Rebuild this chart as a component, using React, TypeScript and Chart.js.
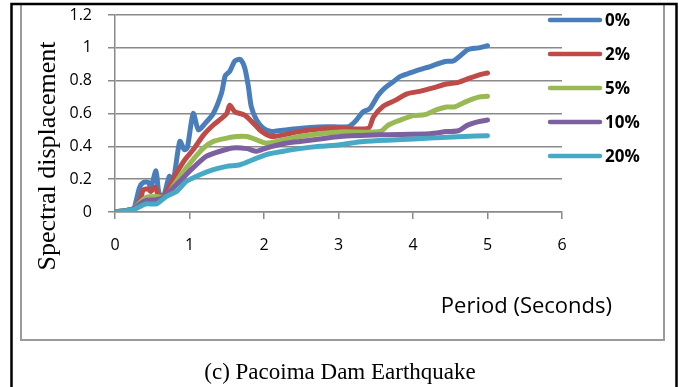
import { useEffect, useRef } from "react";
import { Chart, registerables } from "chart.js";

Chart.register(...registerables);

// ---------- data ----------
const seriesLabels = ["0%", "2%", "5%", "10%", "20%"];
const seriesColors = ["#4A7EBB", "#BE4B48", "#98B954", "#7D60A0", "#46AAC5"];

const period0 = [0, 0.15, 0.25, 0.29, 0.33, 0.38, 0.45, 0.48, 0.55, 0.59, 0.65, 0.73, 0.78, 0.87, 0.93, 0.97, 1.05, 1.12, 1.21, 1.32, 1.43, 1.48, 1.54, 1.61, 1.68, 1.74, 1.79, 1.83, 1.9, 1.99, 2.1, 2.19, 2.39, 2.62, 2.84, 3.13, 3.22, 3.33, 3.42, 3.53, 3.62, 3.74, 3.83, 3.96, 4.09, 4.23, 4.43, 4.54, 4.65, 4.74, 4.88, 5.0];
const disp0 = [0, 0.01, 0.02, 0.08, 0.15, 0.18, 0.18, 0.146, 0.25, 0.116, 0.095, 0.217, 0.186, 0.43, 0.38, 0.39, 0.6, 0.5, 0.54, 0.6, 0.725, 0.83, 0.857, 0.92, 0.93, 0.88, 0.765, 0.64, 0.56, 0.51, 0.49, 0.495, 0.505, 0.515, 0.52, 0.52, 0.55, 0.61, 0.63, 0.71, 0.755, 0.795, 0.826, 0.847, 0.867, 0.886, 0.917, 0.92, 0.958, 0.99, 1.0, 1.013];

const period2 = [0, 0.15, 0.25, 0.34, 0.38, 0.45, 0.48, 0.54, 0.58, 0.65, 0.83, 0.94, 1.05, 1.19, 1.32, 1.43, 1.5, 1.54, 1.61, 1.74, 1.86, 1.97, 2.1, 2.26, 2.48, 2.75, 3.02, 3.4, 3.47, 3.6, 3.76, 3.92, 4.09, 4.27, 4.45, 4.61, 4.77, 4.9, 5.0];
const disp2 = [0, 0.01, 0.02, 0.075, 0.135, 0.14, 0.125, 0.152, 0.105, 0.095, 0.24, 0.32, 0.38, 0.47, 0.53, 0.57, 0.6, 0.65, 0.61, 0.59, 0.54, 0.49, 0.46, 0.47, 0.49, 0.505, 0.51, 0.51, 0.58, 0.644, 0.68, 0.72, 0.735, 0.756, 0.78, 0.79, 0.817, 0.837, 0.847];

const period5 = [0, 0.15, 0.25, 0.34, 0.42, 0.55, 0.62, 0.69, 0.87, 1.05, 1.19, 1.32, 1.5, 1.63, 1.77, 1.9, 2.03, 2.26, 2.48, 2.75, 3.02, 3.56, 3.67, 3.83, 4.0, 4.16, 4.32, 4.45, 4.56, 4.72, 4.88, 5.0];
const disp5 = [0, 0.01, 0.02, 0.06, 0.09, 0.095, 0.09, 0.1, 0.217, 0.32, 0.39, 0.43, 0.45, 0.46, 0.46, 0.44, 0.42, 0.44, 0.46, 0.477, 0.488, 0.49, 0.53, 0.56, 0.587, 0.593, 0.624, 0.64, 0.64, 0.674, 0.7, 0.705];

const period10 = [0, 0.15, 0.25, 0.34, 0.42, 0.55, 0.65, 0.87, 1.05, 1.23, 1.41, 1.58, 1.77, 1.9, 2.03, 2.26, 2.48, 2.75, 3.02, 3.56, 4.23, 4.45, 4.61, 4.72, 4.88, 5.0];
const disp10 = [0, 0.01, 0.02, 0.05, 0.07, 0.075, 0.09, 0.187, 0.27, 0.34, 0.37, 0.39, 0.386, 0.37, 0.39, 0.416, 0.43, 0.445, 0.46, 0.47, 0.477, 0.49, 0.495, 0.526, 0.55, 0.56];

const period20 = [0, 0.24, 0.34, 0.42, 0.56, 0.69, 0.83, 0.96, 1.14, 1.32, 1.5, 1.68, 1.86, 2.03, 2.26, 2.48, 2.75, 3.02, 3.33, 3.78, 4.23, 4.68, 5.0];
const disp20 = [0, 0.014, 0.034, 0.05, 0.05, 0.095, 0.126, 0.187, 0.227, 0.258, 0.278, 0.288, 0.32, 0.35, 0.37, 0.386, 0.4, 0.41, 0.43, 0.44, 0.45, 0.46, 0.465];

const seriesPeriods = [period0, period2, period5, period10, period20];
const seriesDisps = [disp0, disp2, disp5, disp10, disp20];

const xTickLabels = ["0", "1", "2", "3", "4", "5", "6"];
const yTickLabels = ["0", "0.2", "0.4", "0.6", "0.8", "1", "1.2"];
const xAxisTitle = "Period (Seconds)";
const yAxisTitle = "Spectral displacement";
const captionText = "(c) Pacoima Dam Earthquake";

const SANS = "'Open Sans', Lato, sans-serif";
const SERIF = "'Liberation Serif', 'DejaVu Serif', serif";
const GRID = "#8a8a8a";

const decorPlugin = {
  id: "decor",
  beforeDraw(chart: any) {
    const ctx = chart.ctx;
    ctx.save();
    ctx.fillStyle = "#ffffff";
    ctx.fillRect(0, 0, chart.width, chart.height);
    ctx.restore();
  },
  afterDraw(chart: any) {
    const ctx = chart.ctx;
    ctx.save();
    // grey chart box
    ctx.strokeStyle = "#9a9a9a";
    ctx.lineWidth = 2;
    ctx.strokeRect(21, 4, 643, 336);
    // black outer frame
    ctx.strokeStyle = "#000000";
    ctx.lineWidth = 2.5;
    ctx.beginPath();
    ctx.moveTo(11.5, 400);
    ctx.lineTo(11.5, 4);
    ctx.lineTo(676.5, 4);
    ctx.lineTo(676.5, 400);
    ctx.stroke();

    // legend
    ctx.lineCap = "round";
    seriesLabels.forEach((lab, i) => {
      const y = 20 + i * 34;
      ctx.strokeStyle = seriesColors[i];
      ctx.lineWidth = 4.5;
      ctx.beginPath();
      ctx.moveTo(550, y);
      ctx.lineTo(600, y);
      ctx.stroke();
      ctx.fillStyle = "#000";
      ctx.font = `bold 17px ${SANS}`;
      ctx.textAlign = "left";
      ctx.textBaseline = "middle";
      ctx.fillText(lab, 605, y + 1);
    });

    // x axis title
    ctx.fillStyle = "#000";
    ctx.font = `22px ${SANS}`;
    ctx.textAlign = "right";
    ctx.textBaseline = "middle";
    ctx.fillText(xAxisTitle, 612, 307);

    // y axis title
    ctx.save();
    ctx.translate(48, 156);
    ctx.rotate(-Math.PI / 2);
    ctx.font = `26px ${SERIF}`;
    ctx.textAlign = "center";
    ctx.textBaseline = "middle";
    ctx.fillText(yAxisTitle, 0, 0);
    ctx.restore();

    // caption
    ctx.font = `23px ${SERIF}`;
    ctx.textAlign = "center";
    ctx.textBaseline = "middle";
    ctx.fillText(captionText, 340, 373);
    ctx.restore();
  },
};

export default function App() {
  const ref = useRef<HTMLCanvasElement | null>(null);

  useEffect(() => {
    document.body.style.margin = "0";
    const canvas = ref.current;
    if (!canvas) return;
    const datasets = seriesLabels.map((lab, i) => ({
      label: lab,
      data: seriesPeriods[i].map((p, j) => ({ x: p, y: seriesDisps[i][j] })),
      borderColor: seriesColors[i],
      backgroundColor: seriesColors[i],
      borderWidth: 5,
      pointRadius: 0,
      tension: 0.25,
      fill: false,
      order: seriesLabels.length - i,
      borderCapStyle: "round" as const,
      borderJoinStyle: "round" as const,
    }));

    const chart = new Chart(canvas, {
      type: "line",
      data: { datasets },
      options: {
        animation: false,
        responsive: false,
        devicePixelRatio: 1,
        layout: { padding: { left: 0, top: 15, right: 117, bottom: 0 } },
        plugins: { legend: { display: false }, tooltip: { enabled: false } },
        scales: {
          x: {
            type: "linear",
            min: 0,
            max: 6,
            afterFit: (s: any) => {
              s.height = 175;
              s.paddingLeft = 0;
              s.paddingRight = 0;
            },
            afterBuildTicks: (s: any) => {
              s.ticks = xTickLabels.map((t) => ({ value: Number(t) }));
            },
            ticks: {
              padding: 17,
              color: "#000",
              font: { family: SANS, size: 16 },
              callback: (_v: any, i: number) => xTickLabels[i],
              maxRotation: 0,
            },
            grid: {
              drawOnChartArea: false,
              drawTicks: true,
              tickLength: 7,
              color: GRID,
              lineWidth: 1.5,
            },
            border: { display: true, color: GRID, width: 1.5 },
          },
          y: {
            type: "linear",
            min: 0,
            max: 1.2,
            afterFit: (s: any) => {
              s.width = 115;
              s.paddingTop = 0;
              s.paddingBottom = 0;
            },
            afterBuildTicks: (s: any) => {
              s.ticks = yTickLabels.map((t) => ({ value: Number(t) }));
            },
            ticks: {
              padding: 16,
              color: "#000",
              font: { family: SANS, size: 16 },
              callback: (_v: any, i: number) => yTickLabels[i],
            },
            grid: {
              drawOnChartArea: true,
              drawTicks: true,
              tickLength: 7,
              color: GRID,
              lineWidth: 1.5,
            },
            border: { display: true, color: GRID, width: 1.5 },
          },
        },
      },
      plugins: [decorPlugin],
    });
    return () => chart.destroy();
  }, []);

  return (
    <div style={{ position: "absolute", left: 0, top: 0, width: 679, height: 387 }}>
      <canvas ref={ref} width={679} height={387} style={{ display: "block" }} />
    </div>
  );
}
